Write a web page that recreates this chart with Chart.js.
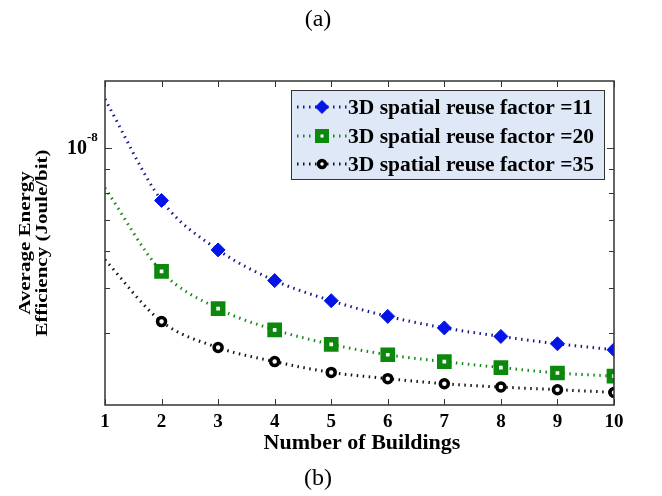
<!DOCTYPE html>
<html>
<head>
<meta charset="utf-8">
<script src="https://cdn.jsdelivr.net/npm/chart.js@4/dist/chart.umd.min.js"></script>
<style>
  body { margin: 0; background: #fff; }
  canvas { display: block; }
</style>
</head>
<body>
<canvas id="effChart" width="662" height="496"></canvas>
<script>
// data
const buildings = [1, 2, 3, 4, 5, 6, 7, 8, 9, 10];
const reuse11 = [12.7e-9, 7.70e-9, 6.03e-9, 5.18e-9, 4.69e-9, 4.34e-9, 4.10e-9, 3.93e-9, 3.79e-9, 3.68e-9];
const reuse20 = [8.19e-9, 5.42e-9, 4.51e-9, 4.06e-9, 3.78e-9, 3.59e-9, 3.47e-9, 3.37e-9, 3.28e-9, 3.23e-9];
const reuse35 = [5.74e-9, 4.23e-9, 3.72e-9, 3.47e-9, 3.29e-9, 3.19e-9, 3.11e-9, 3.06e-9, 3.02e-9, 2.98e-9];
const seriesLabels = ['3D spatial reuse factor =11', '3D spatial reuse factor =20', '3D spatial reuse factor =35'];
const yRange = [2.8e-9, 1.39e-8];
const xTicks = [1, 2, 3, 4, 5, 6, 7, 8, 9, 10];

const SERIF = "'Liberation Serif', 'Times New Roman', serif";

function pts(vals) {
    return buildings.map(function (b, i) { return { x: b, y: vals[i] }; });
}
// no marker at x = 1, only the curve starts there
function radii(r) {
    return buildings.map(function (b) { return b === 1 ? 0 : r; });
}

function series(label, vals, line, fill, edge, style, r, bw) {
    return {
        label: label,
        data: pts(vals),
        borderColor: line,
        borderWidth: 3,
        borderDash: [1.5, 4.5],
        borderCapStyle: 'butt',
        cubicInterpolationMode: 'monotone',
        pointStyle: style,
        pointRadius: radii(r),
        pointBackgroundColor: fill,
        pointBorderColor: edge,
        pointBorderWidth: bw,
        fill: false
    };
}

const datasets = [
    series(seriesLabels[0], reuse11, '#141a8c', '#0414e6', '#0414e6', 'rectRot', 7, 1),
    series(seriesLabels[1], reuse20, '#168a16', '#ffffff', '#0c880c', 'rect', 6.5, 5.5),
    series(seriesLabels[2], reuse35, '#111111', '#ffffff', '#000000', 'circle', 4, 3.5)
];

// ticks inside the box, frame, texts and legend like the matlab figure
const figurePlugin = {
    id: 'figure',
    afterDraw: function (chart) {
        const ctx = chart.ctx;
        const a = chart.chartArea;
        const xs = chart.scales.x;
        const ys = chart.scales.y;
        ctx.save();

        // frame
        ctx.strokeStyle = '#333';
        ctx.lineWidth = 1.5;
        ctx.strokeRect(a.left, a.top, a.right - a.left, a.bottom - a.top);

        // x ticks top and bottom
        ctx.lineWidth = 1;
        xTicks.forEach(function (v) {
            const px = Math.round(xs.getPixelForValue(v)) + 0.5;
            ctx.beginPath();
            ctx.moveTo(px, a.bottom); ctx.lineTo(px, a.bottom - 6);
            ctx.moveTo(px, a.top); ctx.lineTo(px, a.top + 6);
            ctx.stroke();
        });
        // y ticks left and right
        ys.ticks.forEach(function (t) {
            const py = Math.round(ys.getPixelForValue(t.value)) + 0.5;
            if (py < a.top + 1 || py > a.bottom - 1) return;
            const len = Math.abs(t.value - 1e-8) < 1e-12 ? 7 : 5;
            ctx.beginPath();
            ctx.moveTo(a.left, py); ctx.lineTo(a.left + len, py);
            ctx.moveTo(a.right, py); ctx.lineTo(a.right - len, py);
            ctx.stroke();
        });

        // 10^-8 label
        const y8 = ys.getPixelForValue(1e-8);
        ctx.fillStyle = '#000';
        ctx.textBaseline = 'middle';
        ctx.textAlign = 'right';
        ctx.font = 'bold 20px ' + SERIF;
        ctx.fillText('10', 87, y8 + 1);
        ctx.textAlign = 'left';
        ctx.font = 'bold 13px ' + SERIF;
        ctx.fillText('-8', 87, y8 - 10);

        // axis titles
        ctx.textAlign = 'center';
        ctx.font = 'bold 22px ' + SERIF;
        ctx.fillText('Number of Buildings', 362, 443);
        ctx.save();
        ctx.translate(26, 243);
        ctx.rotate(-Math.PI / 2);
        ctx.scale(1, 0.8); // glyphs are narrow across the line in the figure
        ctx.font = 'bold 21px ' + SERIF;
        ctx.fillText('Average Energy', 0, 0);
        ctx.fillText('Efficiency (Joule/bit)', 0, 21);
        ctx.restore();

        // panel captions
        ctx.font = '24px ' + SERIF;
        ctx.fillText('(a)', 318, 20);
        ctx.fillText('(b)', 318, 479);

        // legend
        const lx = 291, ly = 90, lw = 313, lh = 89;
        ctx.fillStyle = '#dfe8f7';
        ctx.fillRect(lx, ly, lw, lh);
        ctx.strokeStyle = '#333';
        ctx.lineWidth = 1;
        ctx.strokeRect(lx + 0.5, ly + 0.5, lw, lh);
        const rows = [107, 136, 164];
        chart.data.datasets.forEach(function (ds, i) {
            const ry = rows[i];
            ctx.save();
            ctx.strokeStyle = ds.borderColor;
            ctx.lineWidth = 3;
            ctx.setLineDash(ds.borderDash);
            ctx.beginPath();
            ctx.moveTo(297, ry); ctx.lineTo(347, ry);
            ctx.stroke();
            ctx.restore();
            ctx.fillStyle = ds.pointBackgroundColor;
            ctx.strokeStyle = ds.pointBorderColor;
            ctx.lineWidth = ds.pointBorderWidth;
            Chart.helpers.drawPoint(ctx, {
                pointStyle: ds.pointStyle,
                radius: Math.max.apply(null, ds.pointRadius) - 0.5,
                rotation: 0,
                borderWidth: ds.pointBorderWidth
            }, 322, ry);
            ctx.fillStyle = '#000';
            ctx.textAlign = 'left';
            ctx.font = 'bold 21.5px ' + SERIF;
            ctx.fillText(ds.label, 348, ry + 1);
        });

        ctx.restore();
    }
};

new Chart(document.getElementById('effChart').getContext('2d'), {
    type: 'line',
    data: { datasets: datasets },
    options: {
        responsive: false,
        devicePixelRatio: 1,
        animation: false,
        layout: { padding: { top: 81, right: 48, left: 0, bottom: 0 } },
        plugins: {
            legend: { display: false },
            tooltip: { enabled: false }
        },
        scales: {
            x: {
                type: 'linear',
                min: 1,
                max: 10,
                grid: { display: false, drawTicks: false },
                border: { display: false },
                afterFit: function (s) { s.height = 91; },
                afterBuildTicks: function (s) {
                    s.ticks = xTicks.map(function (v) { return { value: v }; });
                },
                ticks: {
                    padding: 6,
                    color: '#000',
                    font: { family: SERIF, size: 19, weight: 'bold' }
                }
            },
            y: {
                type: 'logarithmic',
                min: yRange[0],
                max: yRange[1],
                grid: { display: false, drawTicks: false },
                border: { display: false },
                afterFit: function (s) { s.width = 105; },
                ticks: { display: false }
            }
        }
    },
    plugins: [figurePlugin]
});
</script>
</body>
</html>
